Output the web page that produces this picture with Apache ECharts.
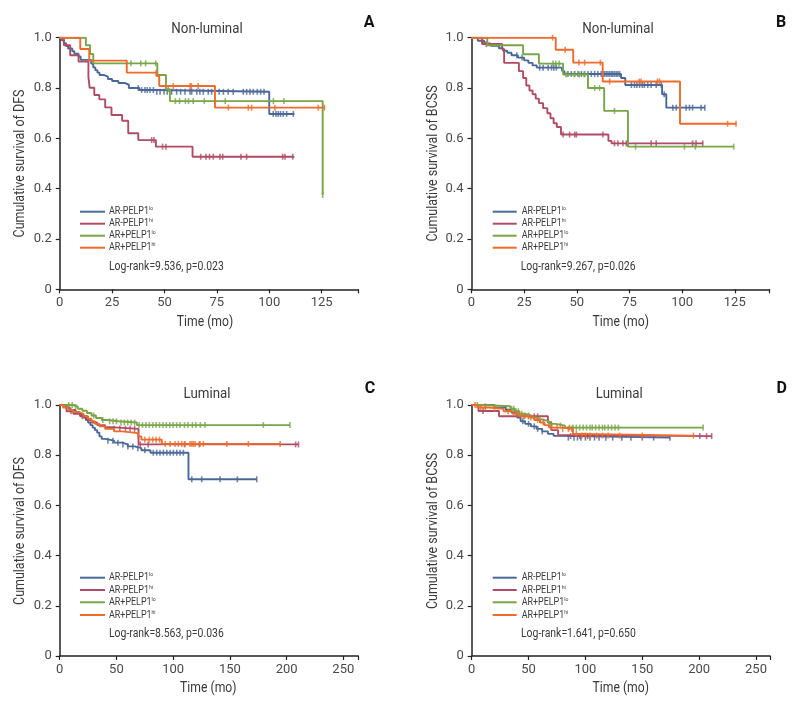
<!DOCTYPE html>
<html>
<head>
<meta charset="utf-8">
<script src="https://cdn.jsdelivr.net/npm/echarts@6/dist/echarts.min.js"></script>
<style>html,body{margin:0;padding:0;background:#fff}#c{width:796px;height:702px}</style>
</head>
<body>
<div id="c"></div>
<script>
// ---------- DATA ----------
const groups = ['AR-PELP1lo', 'AR-PELP1hi', 'AR+PELP1lo', 'AR+PELP1hi'];
const panelTitles = ['Non-luminal', 'Non-luminal', 'Luminal', 'Luminal'];
const panelLetters = ['A', 'B', 'C', 'D'];
const yNames = ['Cumulative survival of DFS', 'Cumulative survival of BCSS', 'Cumulative survival of DFS', 'Cumulative survival of BCSS'];
const logRank = ['Log-rank=9.536, p=0.023', 'Log-rank=9.267, p=0.026', 'Log-rank=8.563, p=0.036', 'Log-rank=1.641, p=0.650'];
const xTicksNonLum = [0, 25, 50, 75, 100, 125];
const xTicksLum = [0, 50, 100, 150, 200, 250];
const yTicks = [0, 0.2, 0.4, 0.6, 0.8, 1.0];

// Panel A: DFS, non-luminal  (steps: [time, survival after event]; end: last follow-up; cens: censor times)
const A_loNeg_steps = [[0,1],[1,0.99],[2,0.978],[3,0.967],[4,0.957],[6,0.946],[7,0.936],[9,0.925],[10,0.912],[15,0.897],[16,0.882],[17,0.871],[18,0.861],[19,0.852],[21,0.845],[23,0.836],[25,0.828],[28,0.82],[31,0.813],[33,0.80],[38,0.792],[46,0.785],[100,0.697]];
const A_loNeg_end = 112;
const A_loNeg_cens = [37.5,39.1,40.7,41.8,43.1,44.7,46.3,47.9,49.8,51.3,53.4,55.8,57.7,59.8,62.2,63,65.4,66.9,68.5,70.9,72.5,76.1,78.1,80.4,82.8,87.6,89.2,90.8,92.4,94.3,95.9,97.5,101.9,103.2,104.3,105.4,106.7,108.3,111.5];
const A_hiNeg_steps = [[0,1],[2,0.97],[5,0.93],[9,0.905],[13.7,0.845],[14.3,0.801],[16.5,0.772],[18.9,0.755],[21.7,0.723],[24.7,0.693],[29.8,0.67],[32.7,0.62],[37.5,0.593],[45.9,0.567],[63.4,0.527]];
const A_hiNeg_end = 112;
const A_hiNeg_cens = [43.9,45,49.1,50.7,67.3,69.8,71.5,73.3,76.5,77.8,86.5,89.2,106.4,107.5,111.2];
const A_loPos_steps = [[0,1],[12.5,0.97],[14.5,0.935],[16,0.898],[46.6,0.852],[50.7,0.795],[52.6,0.748],[125.5,0.375]];
const A_loPos_end = 125.5;
const A_loPos_cens = [34,38.7,41,45.8,51.8,55.2,57.2,60,61.5,63.7,69,79,102,107,125.5];
const A_hiPos_steps = [[0,1],[9.8,0.955],[14.1,0.909],[32,0.861],[46.3,0.848],[47.5,0.808],[74.1,0.722]];
const A_hiPos_end = 126.5;
const A_hiPos_cens = [46,54.2,62.2,62.8,66.1,80.5,90,91.6,102.7,123.4,126.3];

// Panel B: BCSS, non-luminal
const B_loNeg_steps = [[0,1],[3,0.988],[6,0.977],[9,0.968],[13,0.958],[15,0.948],[17,0.94],[19,0.93],[22,0.921],[25,0.91],[27,0.9],[29,0.89],[31,0.881],[43,0.868],[44,0.856],[71,0.84],[73,0.812],[90.5,0.775],[92.5,0.722]];
const B_loNeg_end = 110.8;
const B_loNeg_cens = [21.5,24,32.4,34,36.4,38,39.1,40.3,45.8,47.4,49,50.6,52.2,53.7,55.3,56.9,58.5,60,61.6,62.4,63.2,64,64.8,65.6,66.4,67.1,67.9,68.7,69.5,70.3,75.9,77.4,78.5,79.8,81.1,82.1,83.7,85.3,87.7,90.1,91.5,95.6,97.2,101.9,103.5,105,109,110.8];
const B_hiNeg_steps = [[0,1],[5,0.975],[14.5,0.955],[15.5,0.9],[22.5,0.867],[24.5,0.84],[26,0.81],[27.5,0.79],[29,0.775],[30.5,0.758],[32,0.74],[34,0.72],[36,0.70],[37.5,0.68],[39,0.66],[40.5,0.645],[42.5,0.615],[65,0.59],[66.5,0.58]];
const B_hiNeg_end = 110;
const B_hiNeg_cens = [7,43.5,46.6,49,49.8,62.4,67.9,69.5,71.9,73.5,85.3,87.7,105,106.6,109.8];
const B_loPos_steps = [[0,1],[7.5,0.97],[24.5,0.934],[32,0.897],[43.5,0.854],[55.3,0.8],[63,0.709],[74.3,0.567]];
const B_loPos_end = 124.5;
const B_loPos_cens = [38.7,40,41.6,44.9,48.8,51.2,53.5,58.5,60.8,67.9,77.9,101.1,106.3,124.5];
const B_hiPos_steps = [[0,1],[40,0.952],[48.3,0.901],[62.3,0.826],[99,0.658]];
const B_hiPos_end = 125.8;
const B_hiPos_cens = [38.5,44.5,51,53.7,61.2,65.6,79.6,80.5,88.3,89.3,121.6,125.6];

// Panel C: DFS, luminal
const C_loNeg_steps = [[0,1],[5,0.99],[9,0.98],[14,0.97],[18,0.96],[21,0.95],[23,0.94],[25,0.93],[27,0.92],[29,0.91],[31,0.9],[33,0.89],[35,0.875],[37,0.865],[40,0.858],[48,0.85],[55,0.843],[60,0.835],[66,0.828],[72,0.82],[80,0.81],[113.5,0.704]];
const C_loNeg_end = 173.7;
const C_loNeg_cens = [42.5,46.9,51.3,55.7,60.1,64.5,68.9,75,82.5,85.5,88.4,91.4,94.4,97.3,100.2,103.2,106.1,109,116.4,125.2,141.4,156.6,173.7];
const C_hiNeg_steps = [[0,1],[6,0.975],[12,0.965],[18,0.955],[24,0.94],[28,0.93],[33,0.92],[40,0.912],[45,0.905],[69.5,0.843]];
const C_hiNeg_end = 210.5;
const C_hiNeg_cens = [10,20,48,53,58,62,66,71,78,110,123,208,210.5];
const C_loPos_steps = [[0,1],[12,0.993],[16,0.985],[20,0.977],[24,0.968],[28,0.958],[32,0.948],[37,0.94],[42,0.935],[52,0.93],[68,0.92]];
const C_loPos_end = 203;
const C_loPos_cens = [8,11,14,30,38,44,47,50,54,57,60,63,66,70,73,76,79,82,85,88,91,94,97,100,103,106,110,113,117,120,124,128,179.5,203];
const C_hiPos_steps = [[0,1],[3,0.99],[8,0.98],[12,0.972],[17,0.965],[21,0.955],[25,0.945],[28,0.935],[31,0.925],[35,0.915],[40,0.905],[48,0.895],[55,0.888],[69,0.875],[72,0.862],[90,0.845]];
const C_hiPos_end = 194.3;
const C_hiPos_cens = [75,79,82,85,88,93,97.3,101.7,104.6,107.6,110.5,114.9,116.4,117.8,119.3,123.7,126.6,147.3,166.3,194.3];

// Panel D: BCSS, luminal
const D_loNeg_steps = [[0,1],[20,0.99],[30,0.98],[35,0.97],[40,0.95],[43,0.935],[47,0.925],[52,0.915],[57,0.905],[62,0.895],[67,0.885],[72,0.877],[77,0.87]];
const D_loNeg_end = 174.3;
const D_loNeg_cens = [45,50,55,58,62,85,90,93,96,100,104,108,112,118,124,132,140,150,160,174.3];
const D_hiNeg_steps = [[0,1],[6,0.976],[24,0.955],[67,0.93],[70,0.9],[76,0.88],[80,0.876]];
const D_hiNeg_end = 211;
const D_hiNeg_cens = [10,50,55,58,87,95,102,200.6,206.5,211];
const D_loPos_steps = [[0,1],[10,0.995],[34,0.985],[38,0.975],[42,0.965],[46,0.958],[52,0.95],[58,0.942],[63,0.935],[68,0.925],[74,0.918],[82,0.91]];
const D_loPos_end = 203.5;
const D_loPos_cens = [5,12,35,37,39,41,44,47,50,60,70,78,86,89,92,95,98,101,104,106,109,112,115,117,120,123,126,129,203.5];
const D_hiPos_steps = [[0,1],[5,0.99],[15,0.985],[28,0.975],[36,0.965],[42,0.955],[50,0.95],[55,0.94],[60,0.93],[64,0.92],[68,0.91],[78,0.905],[89,0.885],[95,0.878]];
const D_hiPos_end = 195;
const D_hiPos_cens = [3,8,12,20,32,40,46,52,58,63,70,75,80,85,88,92,97,100,104,110,115,120,130,150,195];

// ---------- LAYOUT / STYLE ----------
const COLORS = ['#4a6898', '#b04b64', '#77a548', '#ee6b2b'];
const FONT = "'Liberation Sans Narrow', 'Roboto', 'Liberation Sans', sans-serif";
const TXT = '#3a3a3a';

const panels = [
  {steps:[A_loNeg_steps,A_hiNeg_steps,A_loPos_steps,A_hiPos_steps], end:[A_loNeg_end,A_hiNeg_end,A_loPos_end,A_hiPos_end], cens:[A_loNeg_cens,A_hiNeg_cens,A_loPos_cens,A_hiPos_cens], xTicks:xTicksNonLum},
  {steps:[B_loNeg_steps,B_hiNeg_steps,B_loPos_steps,B_hiPos_steps], end:[B_loNeg_end,B_hiNeg_end,B_loPos_end,B_hiPos_end], cens:[B_loNeg_cens,B_hiNeg_cens,B_loPos_cens,B_hiPos_cens], xTicks:xTicksNonLum},
  {steps:[C_loNeg_steps,C_hiNeg_steps,C_loPos_steps,C_hiPos_steps], end:[C_loNeg_end,C_hiNeg_end,C_loPos_end,C_hiPos_end], cens:[C_loNeg_cens,C_hiNeg_cens,C_loPos_cens,C_hiPos_cens], xTicks:xTicksLum},
  {steps:[D_loNeg_steps,D_hiNeg_steps,D_loPos_steps,D_hiPos_steps], end:[D_loNeg_end,D_hiNeg_end,D_loPos_end,D_hiPos_end], cens:[D_loNeg_cens,D_hiNeg_cens,D_loPos_cens,D_hiPos_cens], xTicks:xTicksLum}
];

const layout = [
  {grid:{left:59.7, top:37.7, width:298.6, height:251.6}, xmax:142.5, title:[207,29], letter:[369,23], yname:[20.7,163.5], xname:[205,322], legLine:[80,105], legText:109, legY:[211.7,223.7,235.7,247.7], lr:[109,266.7]},
  {grid:{left:471.5, top:37.7, width:298, height:251.6}, xmax:141.5, title:[618,29], letter:[781,23], yname:[433.3,163.5], xname:[620.7,322], legLine:[492.7,516.7], legText:521.7, legY:[211.7,223.7,235.7,247.7], lr:[520.7,266.7]},
  {grid:{left:59.7, top:405, width:298.6, height:251}, xmax:263.2, title:[207,394], letter:[370,389], yname:[20.7,531], xname:[208.3,688], legLine:[80,105], legText:109, legY:[577.7,590,602.3,615], lr:[109,634]},
  {grid:{left:471.7, top:405, width:298.3, height:251}, xmax:262.3, title:[619.3,394], letter:[781.7,389], yname:[433.3,531], xname:[620.7,688], legLine:[492.7,516.7], legText:521.7, legY:[577.7,590,602.3,615], lr:[521,634]}
];

function survAt(steps, t) {
  let s = 1;
  for (const [st, sv] of steps) { if (st <= t + 1e-9) s = sv; else break; }
  return s;
}

const grids = [], xAxes = [], yAxes = [], series = [], graphics = [];
panels.forEach((p, i) => {
  const L = layout[i];
  grids.push(L.grid);
  const step = p.xTicks[1] - p.xTicks[0];
  xAxes.push({
    type:'value', gridIndex:i, min:p.xTicks[0], max:L.xmax, interval:step,
    axisLine:{show:true, lineStyle:{color:'#222', width:1.5}},
    axisTick:{show:true, length:4, lineStyle:{color:'#222', width:1.2}},
    axisLabel:{color:'#4a4a4a', fontSize:13, fontFamily:FONT, margin:7,
      formatter: v => (p.xTicks.indexOf(v) >= 0 ? String(v) : '')},
    splitLine:{show:false}
  });
  yAxes.push({
    type:'value', gridIndex:i, min:0, max:1, interval:0.2,
    axisLine:{show:true, lineStyle:{color:'#222', width:1.5}},
    axisTick:{show:true, length:4, lineStyle:{color:'#222', width:1.2}},
    axisLabel:{color:'#4a4a4a', fontSize:13, fontFamily:FONT, margin:8,
      formatter: v => { const k = yTicks.findIndex(y => Math.abs(y - v) < 1e-6); return k < 0 ? '' : (k === 0 ? '0' : yTicks[k].toFixed(1)); }},
    splitLine:{show:false}
  });
  groups.forEach((g, j) => {
    const st = p.steps[j];
    const lineData = st.map(d => [d[0], d[1]]);
    lineData.push([p.end[j], st[st.length - 1][1]]);
    series.push({
      name:g, type:'line', xAxisIndex:i, yAxisIndex:i, step:'end', symbol:'none', showSymbol:false,
      lineStyle:{color:COLORS[j], width:1.9}, data:lineData, z:2 + j, silent:true
    });
    series.push({
      name:g, type:'scatter', xAxisIndex:i, yAxisIndex:i, symbol:'rect', symbolSize:[1.6, 6],
      itemStyle:{color:COLORS[j]}, data:p.cens[j].map(t => [t, survAt(st, t)]), z:2 + j, silent:true
    });
    // legend entry
    graphics.push({type:'line', shape:{x1:L.legLine[0], y1:L.legY[j], x2:L.legLine[1], y2:L.legY[j]}, style:{stroke:COLORS[j], lineWidth:2}});
    const base = g.slice(0, 8), sup = g.slice(8);
    graphics.push({type:'text', x:L.legText, y:L.legY[j], scaleX:0.85, style:{
      text:'{m|' + base + '}{s|' + sup + '}', align:'left', verticalAlign:'middle',
      rich:{m:{fontSize:10.5, fontFamily:FONT, fill:TXT, lineHeight:12}, s:{fontSize:6, fontFamily:FONT, fill:TXT, verticalAlign:'top', lineHeight:12}}
    }});
  });
  graphics.push({type:'text', x:L.title[0], y:L.title[1], scaleX:0.95, style:{text:panelTitles[i], align:'center', verticalAlign:'middle', fontSize:14, fontFamily:FONT, fill:TXT}});
  graphics.push({type:'text', x:L.letter[0], y:L.letter[1], style:{text:panelLetters[i], align:'center', verticalAlign:'middle', fontSize:16, fontWeight:'bold', fontFamily:FONT, fill:'#111'}});
  graphics.push({type:'text', x:L.yname[0], y:L.yname[1], rotation:Math.PI/2, scaleX:0.89, style:{text:yNames[i], align:'center', verticalAlign:'middle', fontSize:14, fontFamily:FONT, fill:TXT}});
  graphics.push({type:'text', x:L.xname[0], y:L.xname[1], scaleX:0.87, style:{text:'Time (mo)', align:'center', verticalAlign:'middle', fontSize:14, fontFamily:FONT, fill:TXT}});
  graphics.push({type:'text', x:L.lr[0], y:L.lr[1], scaleX:0.87, style:{text:logRank[i], align:'left', verticalAlign:'middle', fontSize:12, fontFamily:FONT, fill:TXT}});
});

const chart = echarts.init(document.getElementById('c'), null, {renderer:'canvas'});
chart.setOption({
  animation:false,
  backgroundColor:'#ffffff',
  grid:grids, xAxis:xAxes, yAxis:yAxes, series:series, graphic:graphics
});
</script>
</body>
</html>
